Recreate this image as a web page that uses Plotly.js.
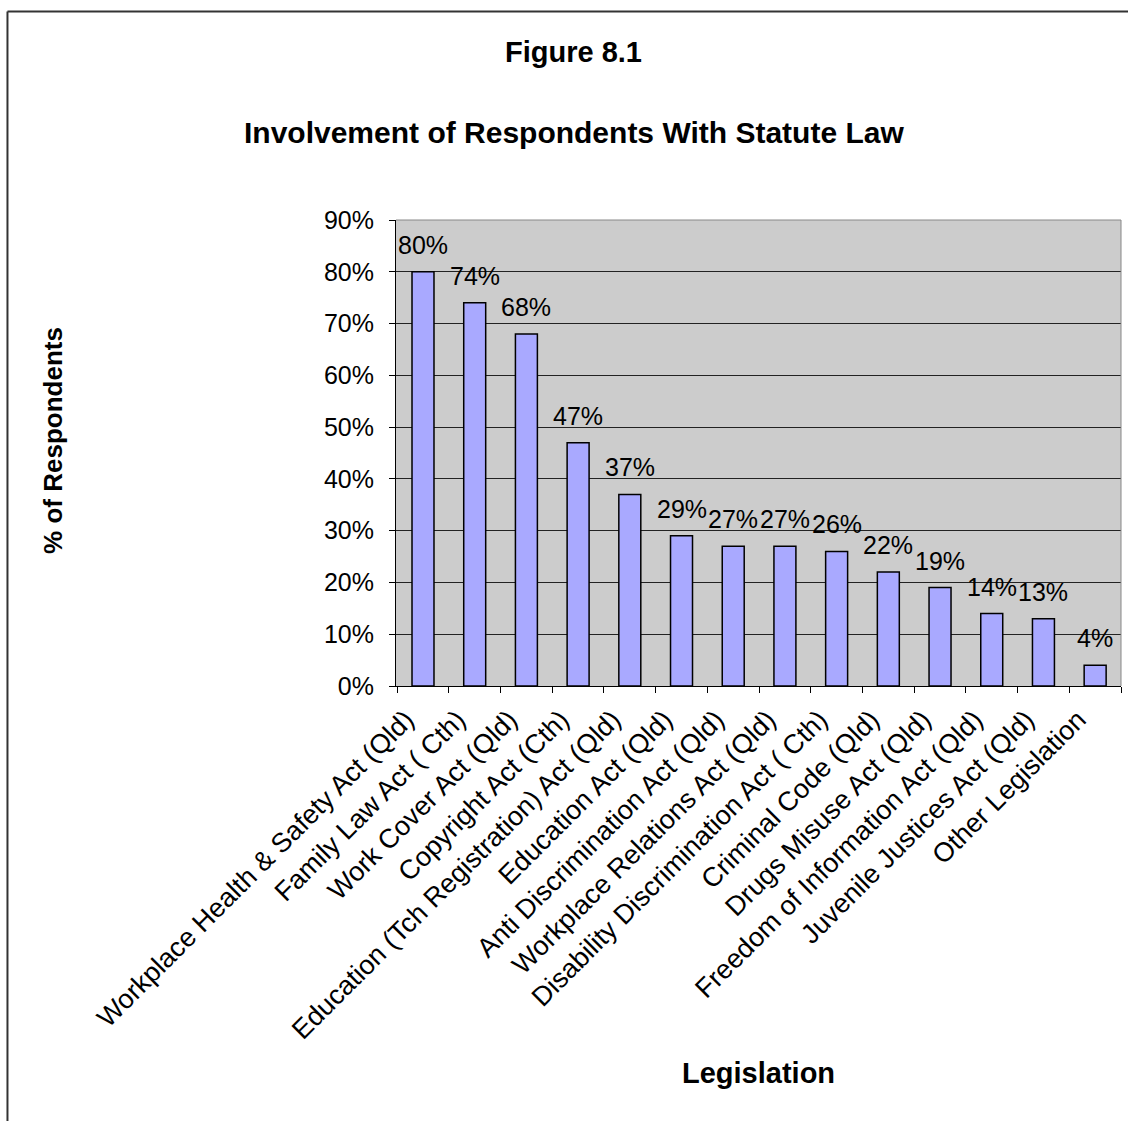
<!DOCTYPE html>
<html>
<head>
<meta charset="utf-8">
<script src="https://cdn.plot.ly/plotly-3.0.1.min.js"></script>
<style>html,body{margin:0;padding:0;background:#fff;}#chart{width:1128px;height:1121px;}</style>
</head>
<body>
<div id="chart"></div>
<script>
const categories = [
  "Workplace Health & Safety Act (Qld)",
  "Family Law Act ( Cth)",
  "Work Cover Act (Qld)",
  "Copyright Act (Cth)",
  "Education (Tch Registration) Act (Qld)",
  "Education Act (Qld)",
  "Anti Discrimination Act (Qld)",
  "Workplace Relations Act (Qld)",
  "Disability Discrimination Act ( Cth)",
  "Criminal Code (Qld)",
  "Drugs Misuse Act (Qld)",
  "Freedom of Information Act (Qld)",
  "Juvenile Justices Act (Qld)",
  "Other Legislation"
];
const values = [0.80, 0.74, 0.68, 0.47, 0.37, 0.29, 0.27, 0.27, 0.26, 0.22, 0.19, 0.14, 0.13, 0.04];
const valueLabels = ["80%","74%","68%","47%","37%","29%","27%","27%","26%","22%","19%","14%","13%","4%"];
const yTickVals = [0,0.1,0.2,0.3,0.4,0.5,0.6,0.7,0.8,0.9];
const yTickText = ["0%","10%","20%","30%","40%","50%","60%","70%","80%","90%"];

const FONT = "Arial, 'Liberation Sans', sans-serif";

const trace = {
  type: 'bar',
  x: categories,
  y: values,
  marker: {color: '#A9A9FF', line: {color: '#000000', width: 1.5}},
  hoverinfo: 'skip'
};

const annotations = categories.map((c, i) => ({
  x: c, y: values[i], xref: 'x', yref: 'y',
  text: valueLabels[i], showarrow: false,
  yanchor: 'bottom', xanchor: 'center', yshift: 11,
  font: {family: FONT, size: 25, color: '#000'}
}));

annotations.push(
  {xref:'paper', yref:'paper', x:0.245, y:1.3605, text:'<b>Figure 8.1</b>', showarrow:false,
   xanchor:'center', yanchor:'middle', font:{family:FONT, size:29, color:'#000'}},
  {xref:'paper', yref:'paper', x:0.245, y:1.1867, text:'<b>Involvement of Respondents With Statute Law</b>', showarrow:false,
   xanchor:'center', yanchor:'middle', font:{family:FONT, size:30, color:'#000'}},
  {xref:'paper', yref:'paper', x:-0.4731, y:0.526, text:'<b>% of Respondents</b>', showarrow:false,
   textangle:-90, xanchor:'center', yanchor:'middle', font:{family:FONT, size:26, color:'#000'}},
  {xref:'paper', yref:'paper', x:0.5, y:-0.83, text:'<b>Legislation</b>', showarrow:false,
   xanchor:'center', yanchor:'middle', font:{family:FONT, size:29, color:'#000'}}
);

const layout = {
  width: 1128, height: 1121,
  margin: {l: 396, r: 7, t: 220, b: 435, pad: 0},
  paper_bgcolor: '#ffffff',
  plot_bgcolor: '#CCCCCC',
  showlegend: false,
  bargap: 0.575,
  font: {family: FONT, color: '#000'},
  xaxis: {
    type: 'category',
    tickson: 'boundaries',
    ticks: 'outside', ticklen: 6, tickcolor: '#000', tickwidth: 1,
    showline: true, linecolor: '#000', linewidth: 1,
    showgrid: false,
    tickangle: -45,
    ticklabelshift: -17,
    ticklabelstandoff: 6,
    tickfont: {family: FONT, size: 27, color: '#000'},
    fixedrange: true
  },
  yaxis: {
    range: [0, 0.9],
    tickvals: yTickVals, ticktext: yTickText,
    ticks: 'outside', ticklen: 6, tickcolor: '#000', tickwidth: 1,
    ticklabelstandoff: 10,
    showline: true, linecolor: '#000', linewidth: 1,
    showgrid: true, gridcolor: '#222', gridwidth: 1,
    zeroline: false,
    tickfont: {family: FONT, size: 25, color: '#000'},
    fixedrange: true
  },
  shapes: [
    {type:'line', xref:'paper', yref:'paper', x0:1, x1:1, y0:0, y1:1,
     line:{color:'#888', width:1}},
    {type:'line', xref:'paper', yref:'paper', x0:0, x1:1, y0:1, y1:1,
     line:{color:'#888', width:1}},
    {type:'line', xref:'paper', yref:'paper', x0:-0.5359, x1:-0.5359, y0:1.4474, y1:-0.96,
     line:{color:'#333', width:2}},
    {type:'line', xref:'paper', yref:'paper', x0:-0.5359, x1:1.03, y0:1.4474, y1:1.4474,
     line:{color:'#333', width:2}}
  ],
  annotations: annotations
};

Plotly.newPlot('chart', [trace], layout, {displayModeBar: false, staticPlot: true});
</script>
</body>
</html>
